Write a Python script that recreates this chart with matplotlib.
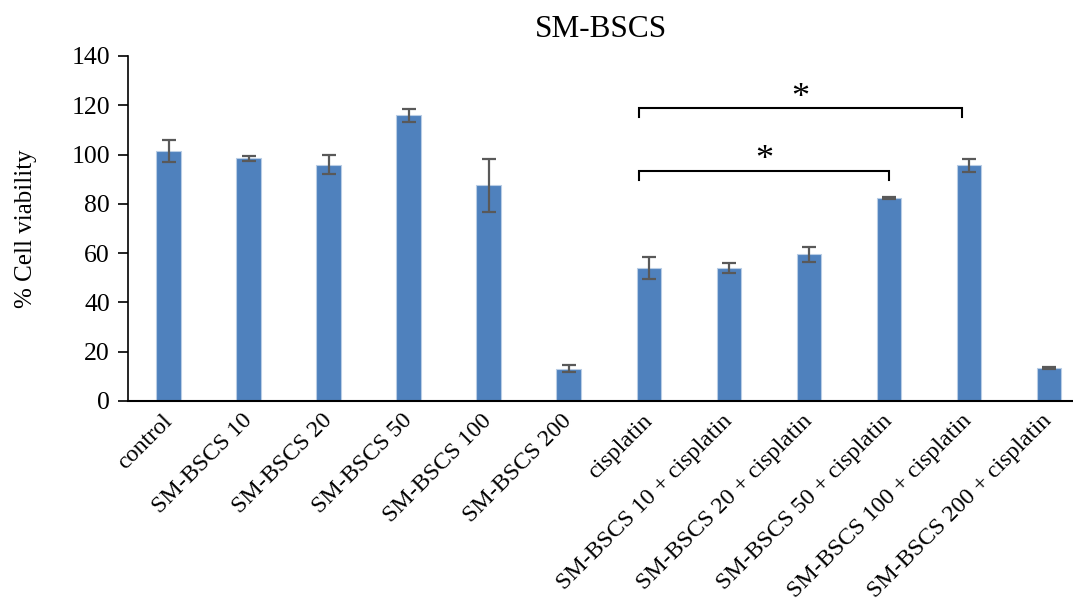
import matplotlib as mpl
import matplotlib.pyplot as plt
import numpy as np

mpl.use('Agg')

plt.rcParams['font.family'] = ['Liberation Serif', 'DejaVu Serif']

# viability (%) per treatment, mean and SD
groups = ['control', 'SM-BSCS 10', 'SM-BSCS 20', 'SM-BSCS 50', 'SM-BSCS 100',
          'SM-BSCS 200', 'cisplatin', 'SM-BSCS 10 + cisplatin',
          'SM-BSCS 20 + cisplatin', 'SM-BSCS 50 + cisplatin',
          'SM-BSCS 100 + cisplatin', 'SM-BSCS 200 + cisplatin']
viability = [101.5, 98.5, 95.9, 115.9, 87.5, 13.1, 54.0, 54.0, 59.5, 82.4, 95.6, 13.3]
sd = [4.6, 1.1, 3.9, 2.6, 10.7, 1.4, 4.5, 2.0, 2.9, 0.4, 2.6, 0.4]

# significance brackets: (left group, right group, bracket height)
brackets = [(6, 9, 93.4), (6, 10, 118.8)]

fig = plt.figure(figsize=(10.73, 6.08), dpi=100)
ax = fig.add_axes([0.1193, 0.3405, 0.8807, 0.5674])

x = np.arange(len(groups))
ax.bar(x, viability, width=0.31, color='#4f81bd', edgecolor='#b9cde5', linewidth=0.8,
       yerr=sd, error_kw=dict(ecolor='#595959', elinewidth=1.6, capsize=5, capthick=1.6))

for left, right, h in brackets:
    x0 = left - 0.12
    x1 = right if right == 9 else right - 0.09
    ax.plot([x0, x0, x1, x1], [h - 3.6, h, h, h - 3.6], color='black', lw=1.5,
            solid_joinstyle='miter', clip_on=False)
    ax.text((x0 + x1) / 2, h + 4.0, '*', ha='center', va='center', fontsize=26)

ax.set_xlim(-0.51, 11.3)
ax.set_ylim(0, 140)
ax.set_yticks(np.arange(0, 141, 20))
ax.set_xticks(x)
ax.set_xticklabels(groups, rotation=45, ha='right', va='center', rotation_mode='anchor',
                   fontsize=17.3)
ax.tick_params(axis='x', length=0, pad=12)
ax.tick_params(axis='y', labelsize=18.5, length=7, width=1.2, direction='out', pad=6)
for side in ['top', 'right']:
    ax.spines[side].set_visible(False)
ax.spines['left'].set_linewidth(1.2)
ax.spines['bottom'].set_linewidth(1.5)
ax.set_ylabel('% Cell viability', fontsize=18, labelpad=25)
ax.set_title('SM-BSCS', fontsize=22.5, pad=14)

fig.savefig('out.png', dpi=100)
plt.close()
